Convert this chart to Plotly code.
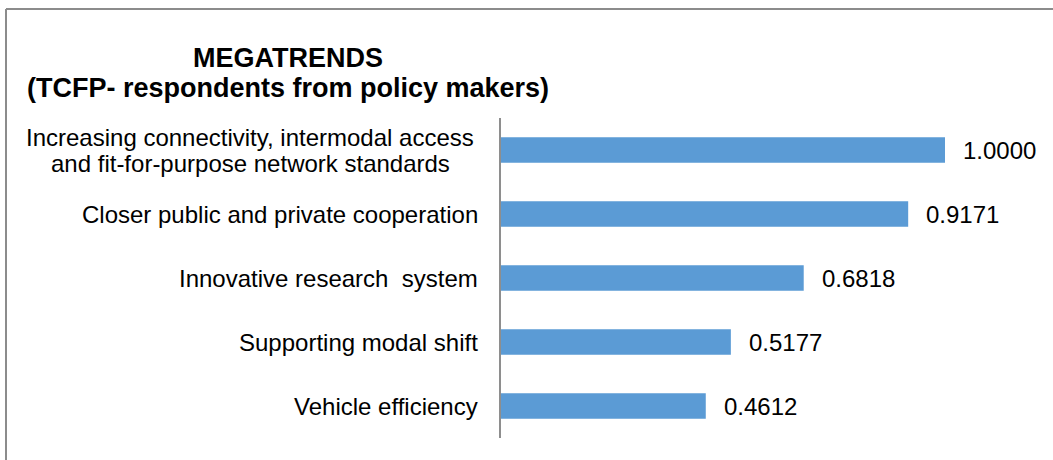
import plotly.graph_objects as go

# Megatrends ranked by normalised score (policy-maker respondents)
categories = [
    "Increasing connectivity, intermodal access<br>and fit-for-purpose network standards",
    "Closer public and private cooperation",
    "Innovative research  system",
    "Supporting modal shift",
    "Vehicle efficiency",
]
scores = [1.0000, 0.9171, 0.6818, 0.5177, 0.4612]
value_labels = ["1.0000", "0.9171", "0.6818", "0.5177", "0.4612"]
title_lines = ["MEGATRENDS", "(TCFP- respondents from policy makers)"]

W, H = 1053, 460
L, R, T, B = 501, 18, 118, 22
FONT = "Liberation Sans, Arial, sans-serif"
LABEL_SIZE = 24
LINE_GAP = 26
LABEL_RIGHT = 480     # right edge of the category labels (px)
MULTI_CENTRE = 250    # centre of multi-line category labels (px)


def px_x(px):
    return (px - L) / (W - L - R)


def px_y(py):
    return (H - B - py) / (H - T - B)


fig = go.Figure(
    go.Bar(
        x=scores,
        y=categories,
        orientation="h",
        marker=dict(color="#5B9BD5", line=dict(width=0)),
        hoverinfo="skip",
    )
)

annotations = []
label_font = dict(family=FONT, size=LABEL_SIZE, color="#000000")

# category labels: single lines right-aligned by the axis, wrapped ones centred
for cat in categories:
    lines = cat.split("<br>")
    n = len(lines)
    for i, line in enumerate(lines):
        if n == 1:
            pos = dict(x=px_x(LABEL_RIGHT), xanchor="right")
        else:
            pos = dict(x=px_x(MULTI_CENTRE), xanchor="center")
        annotations.append(dict(
            xref="paper", y=cat, yref="y",
            text=line, showarrow=False, yanchor="middle",
            yshift=((n - 1) / 2 - i) * LINE_GAP,
            font=label_font, **pos,
        ))

# value labels to the right of each bar
for cat, val, lab in zip(categories, scores, value_labels):
    annotations.append(dict(
        x=val, xref="x", y=cat, yref="y",
        text=lab, showarrow=False,
        xanchor="left", yanchor="middle", xshift=16,
        font=label_font,
    ))

# chart title, two bold centred lines
for i, line in enumerate(title_lines):
    annotations.append(dict(
        x=px_x(288), xref="paper", y=px_y(58 + 30 * i), yref="paper",
        text=f"<b>{line}</b>", showarrow=False,
        xanchor="center", yanchor="middle",
        font=dict(family=FONT, size=27, color="#000000"),
    ))

# outer frame (top and left edges)
frame = dict(color="#8c8c8c", width=2)
shapes = [
    dict(type="line", xref="paper", yref="paper",
         x0=px_x(6), x1=px_x(W + 5), y0=px_y(9), y1=px_y(9), line=frame),
    dict(type="line", xref="paper", yref="paper",
         x0=px_x(6), x1=px_x(6), y0=px_y(9), y1=px_y(H + 5), line=frame),
]

fig.update_layout(
    width=W, height=H,
    margin=dict(l=L, r=R, t=T, b=B),
    paper_bgcolor="#ffffff", plot_bgcolor="#ffffff",
    bargap=0.6,
    showlegend=False,
    annotations=annotations,
    shapes=shapes,
    xaxis=dict(range=[0, (W - L - R) / 444], visible=False, fixedrange=True),
    yaxis=dict(
        autorange="reversed", showticklabels=False, ticks="",
        showgrid=False, zeroline=False,
        showline=True, linecolor="#8e8e8e", linewidth=2,
        fixedrange=True,
    ),
)

fig.write_html("out.html")
